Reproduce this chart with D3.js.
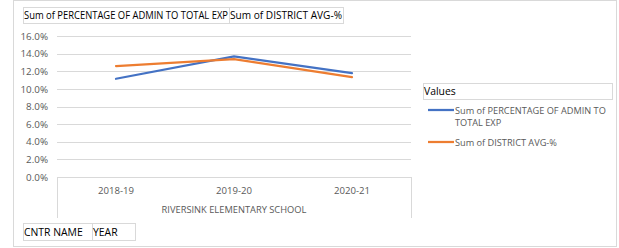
<!DOCTYPE html>
<head>
<meta charset="utf-8">
<title>Admin to total exp</title>
<script src="https://d3js.org/d3.v7.min.js"></script>
<style>
  body { margin: 0; background: #fff; }
  text { font-family: "Open Sans", "Noto Sans", sans-serif; }
</style>
</head>
<body>
<div id="container"></div>
<script>
// ---------- data ----------
const years = ["2018-19", "2019-20", "2020-21"];
const adminPct = [11.15, 13.68, 11.8];
const districtAvg = [12.59, 13.38, 11.34];
const seriesNames = ["Sum of PERCENTAGE OF ADMIN TO TOTAL EXP", "Sum of DISTRICT AVG-%"];
const seriesColors = ["#4472C4", "#ED7D31"];
const yTicks = [0, 2, 4, 6, 8, 10, 12, 14, 16];
const groupLabel = "RIVERSINK ELEMENTARY SCHOOL";
const rowFields = ["CNTR NAME", "YEAR"];

const W = 619, H = 248;
const plot = { left: 57, right: 411, top: 36, bottom: 177 };

const svg = d3.select("#container").append("svg")
  .attr("width", W).attr("height", H);

// outer frame
svg.append("rect")
  .attr("x", 13.5).attr("y", 0.5).attr("width", 603).attr("height", 246)
  .attr("fill", "none").attr("stroke", "#D9D9D9");

// ---------- scales ----------
const x = d3.scaleBand().domain(years).range([plot.left, plot.right]);
const y = d3.scaleLinear().domain([0, 16]).range([plot.bottom, plot.top]);

// gridlines
svg.append("g").selectAll("line")
  .data(yTicks.filter(d => d > 0))
  .join("line")
  .attr("x1", plot.left).attr("x2", plot.right)
  .attr("y1", d => Math.round(y(d)) + 0.5).attr("y2", d => Math.round(y(d)) + 0.5)
  .attr("stroke", "#D9D9D9");

// y axis labels
const yAxis = d3.axisLeft(y).tickValues(yTicks).tickSize(0).tickPadding(9)
  .tickFormat(d => d.toFixed(1) + "%");
svg.append("g")
  .attr("transform", `translate(${plot.left},0)`)
  .call(yAxis)
  .call(g => g.select(".domain").remove())
  .call(g => g.selectAll("text").attr("fill", "#595959").style("font-size", "9.8px"));

// category axis frame (pivot style)
const axisG = svg.append("g").attr("stroke", "#D9D9D9").attr("fill", "none");
axisG.append("line")
  .attr("x1", plot.left).attr("x2", plot.right)
  .attr("y1", plot.bottom + 0.5).attr("y2", plot.bottom + 0.5);
axisG.append("line")
  .attr("x1", plot.left + 0.5).attr("x2", plot.left + 0.5)
  .attr("y1", plot.bottom).attr("y2", 218);
axisG.append("line")
  .attr("x1", plot.right + 0.5).attr("x2", plot.right + 0.5)
  .attr("y1", plot.bottom).attr("y2", 218);

svg.append("g").selectAll("text")
  .data(years)
  .join("text")
  .attr("x", d => x(d) + x.bandwidth() / 2)
  .attr("y", 194)
  .attr("text-anchor", "middle")
  .attr("fill", "#595959").style("font-size", "9.6px")
  .text(d => d);

svg.append("text")
  .attr("x", (plot.left + plot.right) / 2).attr("y", 213)
  .attr("text-anchor", "middle")
  .attr("fill", "#595959").style("font-size", "9.3px")
  .text(groupLabel);

// ---------- lines ----------
const line = d3.line()
  .x((d, i) => x(years[i]) + x.bandwidth() / 2)
  .y(d => y(d));

[adminPct, districtAvg].forEach((vals, i) => {
  svg.append("path")
    .datum(vals)
    .attr("d", line)
    .attr("fill", "none")
    .attr("stroke", seriesColors[i])
    .attr("stroke-width", 2.25)
    .attr("stroke-linecap", "round");
});

// ---------- field buttons ----------
function fieldBox(x0, y0, w, h, label, size, fit) {
  svg.append("rect")
    .attr("x", x0 + 0.5).attr("y", y0 + 0.5).attr("width", w).attr("height", h)
    .attr("fill", "#fff").attr("stroke", "#D9D9D9");
  const t = svg.append("text")
    .attr("x", x0 + 1).attr("y", y0 + h / 2 + 4)
    .attr("fill", "#000").style("font-size", size)
    .text(label);
  if (fit) t.attr("textLength", fit).attr("lengthAdjust", "spacingAndGlyphs");
}
fieldBox(23, 7, 206, 16, seriesNames[0], "9.9px", 204);
fieldBox(229, 7, 114, 16, seriesNames[1], "9.9px", 112);
fieldBox(23, 223, 69, 17, rowFields[0], "10.4px");
fieldBox(92, 223, 43, 17, rowFields[1], "10.4px");

// ---------- legend ----------
fieldBox(423, 83, 189, 16, "Values", "10.4px");
const leg = svg.append("g");
const legRows = [
  { y: 110, lines: ["Sum of PERCENTAGE OF ADMIN TO", "TOTAL EXP"] },
  { y: 142, lines: ["Sum of DISTRICT AVG-%"] }
];
legRows.forEach((r, i) => {
  leg.append("line")
    .attr("x1", 428).attr("x2", 454).attr("y1", r.y).attr("y2", r.y)
    .attr("stroke", seriesColors[i]).attr("stroke-width", 2.25);
  r.lines.forEach((t, j) => {
    leg.append("text")
      .attr("x", 455).attr("y", r.y + 3.5 + j * 12)
      .attr("fill", "#595959").style("font-size", "9.2px")
      .text(t);
  });
});
</script>
</body>
